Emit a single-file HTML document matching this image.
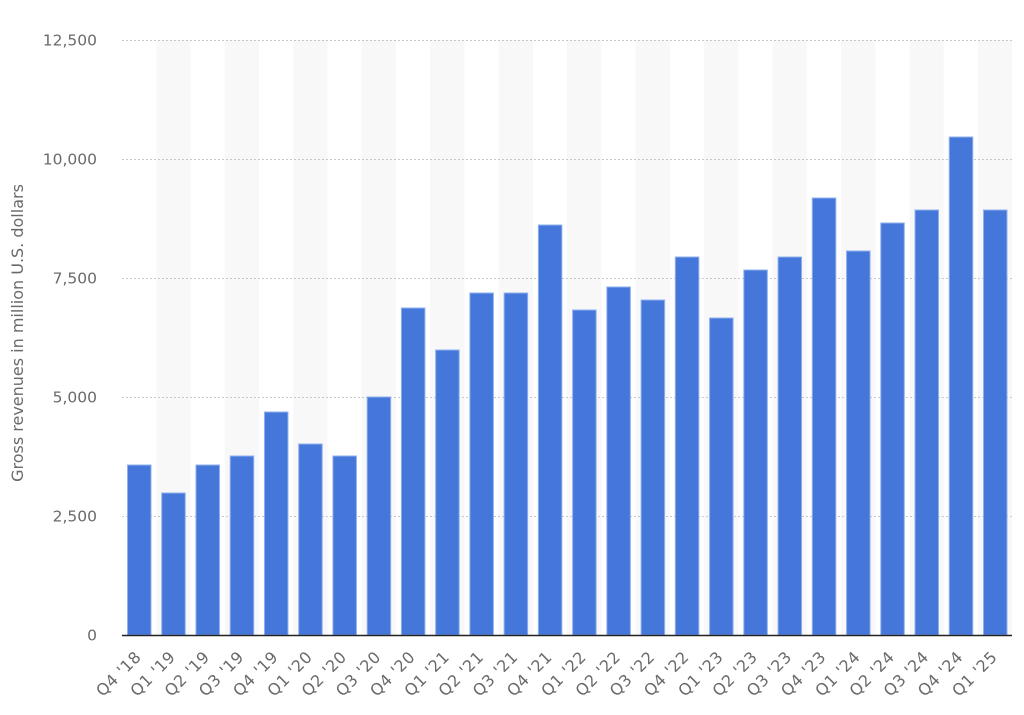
<!DOCTYPE html>
<html><head><style>body{margin:0;background:#fff}svg{display:block}</style></head>
<body>
<svg width="1024" height="715" xmlns="http://www.w3.org/2000/svg" font-family="'DejaVu Sans', sans-serif">
<g id="bands" fill="#f8f8f8"></g>
<g id="grid" stroke="#c8c8c8" stroke-dasharray="2,2" stroke-width="1"></g>
<g id="bars" fill="#4577db" stroke="#8fb0ec" stroke-width="1"></g>
<line x1="122" y1="635.5" x2="1012" y2="635.5" stroke="#222" stroke-width="1.5"/>
<g id="ylab" fill="#6a6a6a" font-size="15.5" text-anchor="end"></g>
<g id="xlab" fill="#6a6a6a" font-size="16" letter-spacing="0.5" text-anchor="end"></g>
<text transform="translate(23,333) rotate(-90)" text-anchor="middle" fill="#6a6a6a" font-size="16">Gross revenues in million U.S. dollars</text>
<script>
var NS="http://www.w3.org/2000/svg";
function el(p,t,a,txt){var e=document.createElementNS(NS,t);for(var k in a)e.setAttribute(k,a[k]);if(txt)e.textContent=txt;document.getElementById(p).appendChild(e);}
var labels=["Q4 '18","Q1 '19","Q2 '19","Q3 '19","Q4 '19","Q1 '20","Q2 '20","Q3 '20","Q4 '20","Q1 '21","Q2 '21","Q3 '21","Q4 '21","Q1 '22","Q2 '22","Q3 '22","Q4 '22","Q1 '23","Q2 '23","Q3 '23","Q4 '23","Q1 '24","Q2 '24","Q3 '24","Q4 '24","Q1 '25"];
var tops=[465,493,465,456,412,444,456,397,308,350,293,293,225,310,287,300,257,318,270,257,198,251,223,210,137,210];
var w=34.24;
for(var i=0;i<26;i++){
 var x0=122+w*i;
 if(i%2==1) el("bands","rect",{x:x0,y:40,width:w,height:595});
 el("bars","rect",{x:x0+5.5,y:tops[i],width:23.5,height:635-tops[i]});
 var cx=x0+w/2;
 el("xlab","text",{transform:"translate("+(cx+3)+",658) rotate(-45)"},labels[i]);
}
var gy=[40,159,278,397,516],gl=["12,500","10,000","7,500","5,000","2,500"];
for(var j=0;j<5;j++){el("grid","line",{x1:122,x2:1012,y1:gy[j]+0.5,y2:gy[j]+0.5});el("ylab","text",{x:97,y:gy[j]+5.5},gl[j]);}
el("ylab","text",{x:97,y:640.5},"0");
</script>
</svg>
</body></html>
